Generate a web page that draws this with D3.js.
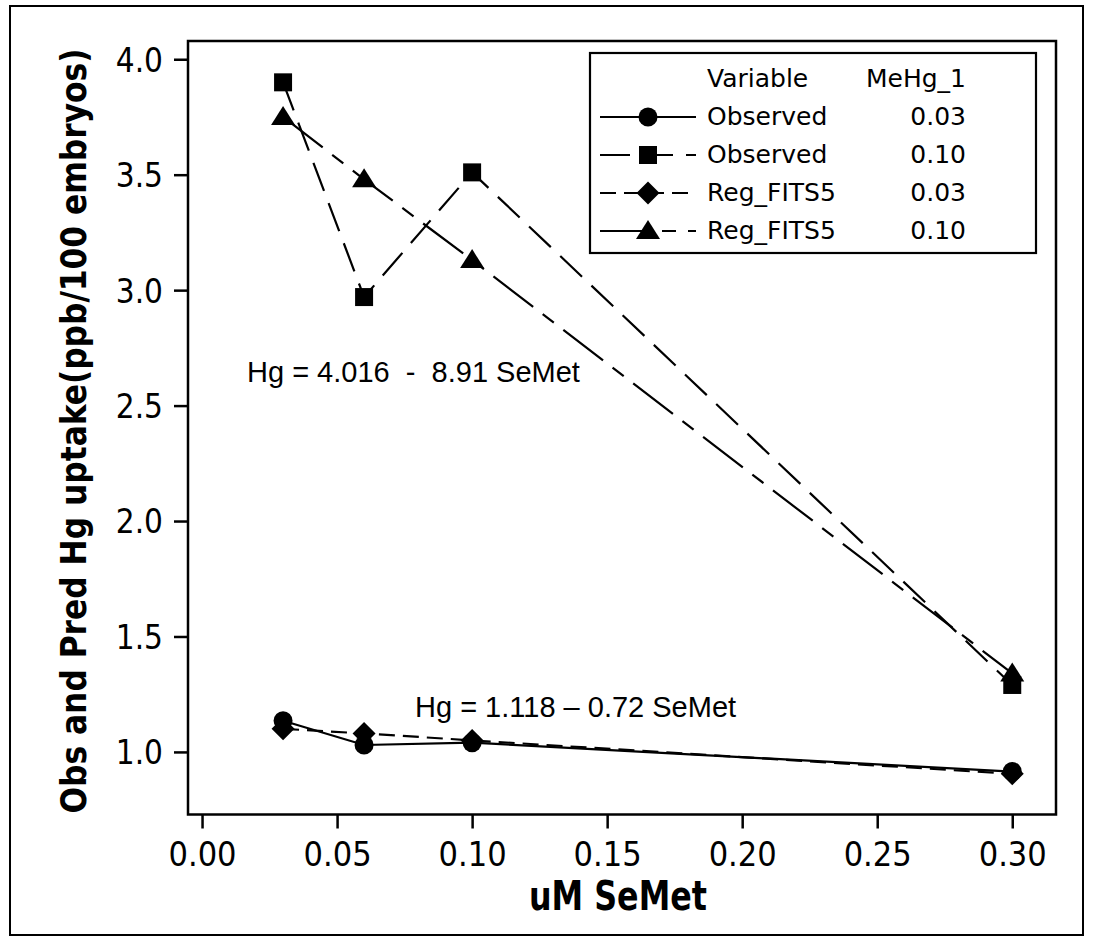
<!DOCTYPE html>
<html>
<head>
<meta charset="utf-8">
<script src="https://cdn.jsdelivr.net/npm/d3@7"></script>
<style>
body { margin: 0; background: #fff; }
text { fill: #000; }
</style>
</head>
<body>
<script>
// data
const semet = [0.03, 0.06, 0.10, 0.30]
const observed003 = [1.135, 1.030, 1.040, 0.915]
const observed010 = [3.90, 2.97, 3.51, 1.29]
const fits003 = [1.100, 1.080, 1.050, 0.905]
const fits010 = [3.75, 3.48, 3.13, 1.34]
const variableNames = ["Observed", "Observed", "Reg_FITS5", "Reg_FITS5"]
const mehgLevels = ["0.03", "0.10", "0.03", "0.10"]
const xTicks = [0.00, 0.05, 0.10, 0.15, 0.20, 0.25, 0.30]
const yTicks = [1.0, 1.5, 2.0, 2.5, 3.0, 3.5, 4.0]

const w = 1093, h = 940
const plotLeft = 188, plotRight = 1056, plotTop = 41, plotBottom = 814.5

let svg = d3.select("body").append("svg")
    .attr("width", w)
    .attr("height", h)

// outer border
svg.append("rect")
    .attr("x", 10).attr("y", 6)
    .attr("width", 1073).attr("height", 929)
    .attr("fill", "none").attr("stroke", "#000").attr("stroke-width", 2)

let x = d3.scaleLinear().domain([-0.0052, 0.3162]).range([plotLeft, plotRight])
let y = d3.scaleLinear().domain([0.729, 4.079]).range([plotBottom, plotTop])

const tickFont = "'DejaVu Sans Condensed', 'DejaVu Sans', sans-serif"

// axes
let xAxis = svg.append("g")
    .attr("transform", "translate(0," + plotBottom + ")")
    .call(d3.axisBottom(x).tickValues(xTicks).tickFormat(d3.format(".2f")).tickSize(14).tickSizeOuter(0))
let yAxis = svg.append("g")
    .attr("transform", "translate(" + plotLeft + ",0)")
    .call(d3.axisLeft(y).tickValues(yTicks).tickFormat(d3.format(".1f")).tickSize(14).tickSizeOuter(0))

xAxis.select(".domain").remove()
yAxis.select(".domain").remove()
svg.selectAll(".tick line").attr("stroke", "#000").attr("stroke-width", 2.5)
xAxis.selectAll(".tick text")
    .attr("font-family", tickFont).attr("font-stretch", "condensed")
    .attr("font-size", 34).attr("dy", 0).attr("y", 51)
yAxis.selectAll(".tick text")
    .attr("font-family", tickFont).attr("font-stretch", "condensed")
    .attr("font-size", 33).attr("x", -25).attr("dy", "0.36em")

// plot frame
svg.append("rect")
    .attr("x", plotLeft).attr("y", plotTop)
    .attr("width", plotRight - plotLeft).attr("height", plotBottom - plotTop)
    .attr("fill", "none").attr("stroke", "#000").attr("stroke-width", 2.5)

// axis titles
const boldFont = "'Liberation Sans Narrow', 'DejaVu Sans Condensed', 'DejaVu Sans', sans-serif"
svg.append("text")
    .attr("transform", "translate(86,431) rotate(-90)")
    .attr("text-anchor", "middle")
    .attr("font-family", boldFont).attr("font-weight", "bold")
    .attr("font-size", 36)
    .attr("textLength", 765).attr("lengthAdjust", "spacingAndGlyphs")
    .text("Obs and Pred Hg uptake(ppb/100 embryos)")
svg.append("text")
    .attr("x", 618).attr("y", 910)
    .attr("text-anchor", "middle")
    .attr("font-family", boldFont).attr("font-weight", "bold")
    .attr("font-size", 40)
    .attr("textLength", 178).attr("lengthAdjust", "spacingAndGlyphs")
    .text("uM SeMet")

// marker shapes
function markerPath(kind) {
    if (kind === "circle") return "M-9.5,0A9.5,9.5 0 1,0 9.5,0A9.5,9.5 0 1,0 -9.5,0Z"
    if (kind === "square") return "M-9,-9H9V9H-9Z"
    if (kind === "diamond") return "M0,-11.5L11.5,0L0,11.5L-11.5,0Z"
    return "M0,-11L12,8H-12Z"
}

let series = [
    { values: observed003, marker: "circle", dash: null },
    { values: observed010, marker: "square", dash: "30,13" },
    { values: fits003, marker: "diamond", dash: "16,8" },
    { values: fits010, marker: "triangle", dash: "50,12,14,12" }
]

let line = d3.line()
    .x((d, i) => x(semet[i]))
    .y(d => y(d))

let plot = svg.append("g")
series.forEach((s) => {
    plot.append("path")
        .datum(s.values)
        .attr("d", line)
        .attr("fill", "none")
        .attr("stroke", "#000")
        .attr("stroke-width", 2.2)
        .attr("stroke-dasharray", s.dash)
})
series.forEach((s) => {
    plot.selectAll(null)
        .data(s.values)
        .enter().append("path")
        .attr("d", markerPath(s.marker))
        .attr("transform", (d, i) => "translate(" + x(semet[i]) + "," + y(d) + ")")
        .attr("fill", "#000")
})

// annotations
const annFont = "'Liberation Sans', Arial, sans-serif"
svg.append("text")
    .attr("x", 247).attr("y", 382)
    .attr("font-family", annFont).attr("font-size", 29)
    .style("white-space", "pre")
    .text("Hg = 4.016  -  8.91 SeMet")
svg.append("text")
    .attr("x", 415).attr("y", 717)
    .attr("font-family", annFont).attr("font-size", 29)
    .style("white-space", "pre")
    .text("Hg = 1.118 \u2013 0.72 SeMet")

// legend
let legend = svg.append("g")
legend.append("rect")
    .attr("x", 590).attr("y", 53)
    .attr("width", 446).attr("height", 200)
    .attr("fill", "#fff").attr("stroke", "#000").attr("stroke-width", 2.2)

const legFont = "'DejaVu Sans', sans-serif"
legend.append("text")
    .attr("x", 707).attr("y", 87)
    .attr("font-family", legFont).attr("font-size", 25)
    .text("Variable")
legend.append("text")
    .attr("x", 966).attr("y", 87)
    .attr("text-anchor", "end")
    .attr("font-family", legFont).attr("font-size", 25)
    .text("MeHg_1")

let rows = legend.selectAll("g.row")
    .data(series)
    .enter().append("g")
    .attr("class", "row")
    .attr("transform", (d, i) => "translate(0," + (125 + i * 38) + ")")

rows.append("line")
    .attr("x1", 600).attr("x2", 696)
    .attr("y1", -8).attr("y2", -8)
    .attr("stroke", "#000").attr("stroke-width", 2.2)
    .attr("stroke-dasharray", d => d.dash)
rows.append("path")
    .attr("d", d => markerPath(d.marker))
    .attr("transform", "translate(648,-8)")
    .attr("fill", "#000")
rows.append("text")
    .attr("x", 707)
    .attr("font-family", legFont).attr("font-size", 25)
    .text((d, i) => variableNames[i])
rows.append("text")
    .attr("x", 966)
    .attr("text-anchor", "end")
    .attr("font-family", legFont).attr("font-size", 25)
    .text((d, i) => mehgLevels[i])
</script>
</body>
</html>
